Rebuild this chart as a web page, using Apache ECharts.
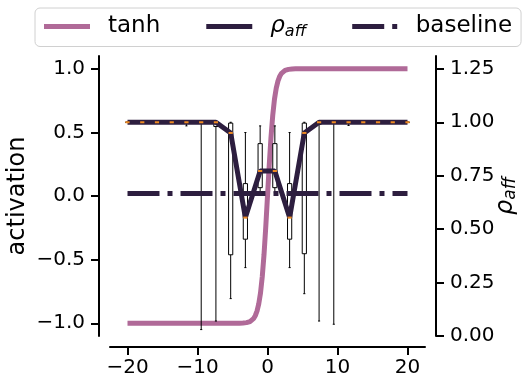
<!DOCTYPE html>
<html>
<head>
<meta charset="utf-8">
<script src="https://cdn.jsdelivr.net/npm/echarts@6/dist/echarts.min.js"></script>
<style>
  html, body { margin: 0; padding: 0; background: #fff; }
  #chart { width: 532px; height: 392px; }
</style>
</head>
<body>
<div id="chart"></div>
<script>
// tanh curve
const tanhX = [-20, -4, -3.5, -3, -2.75, -2.5, -2.25, -2, -1.75, -1.5, -1.25, -1, -0.75, -0.5, -0.25, 0,
  0.25, 0.5, 0.75, 1, 1.25, 1.5, 1.75, 2, 2.25, 2.5, 2.75, 3, 3.5, 4, 20]
const tanhY = [-1, -0.999, -0.998, -0.995, -0.992, -0.987, -0.978, -0.964, -0.941, -0.905, -0.848, -0.762, -0.635, -0.462, -0.245, 0,
  0.245, 0.462, 0.635, 0.762, 0.848, 0.905, 0.941, 0.964, 0.978, 0.987, 0.992, 0.995, 0.998, 0.999, 1]

// positions of the rho_aff samples
const rhoX = [-20, -17.89, -15.79, -13.68, -11.58, -9.47, -7.37, -5.26, -3.16, -1.05,
  1.05, 3.16, 5.26, 7.37, 9.47, 11.58, 13.68, 15.79, 17.89, 20]
const rhoY = [1, 1, 1, 1, 1, 1, 1, 0.95, 0.554, 0.772,
  0.772, 0.554, 0.95, 1, 1, 1, 1, 1, 1, 1]

// box stats per sample: [min, q1, median, q3, max]
const rhoBox = [
  [1, 1, 1, 1, 1],
  [1, 1, 1, 1, 1],
  [1, 1, 1, 1, 1],
  [1, 1, 1, 1, 1],
  [0.983, 1, 1, 1, 1],
  [0.03, 1, 1, 1, 1],
  [0.07, 0.98, 1, 1, 1],
  [0.175, 0.38, 0.95, 0.996, 1],
  [0.32, 0.453, 0.554, 0.713, 0.952],
  [0.67, 0.694, 0.772, 0.9, 0.983],
  [0.67, 0.694, 0.772, 0.9, 0.983],
  [0.32, 0.453, 0.554, 0.713, 0.952],
  [0.198, 0.385, 0.95, 0.996, 1],
  [0.07, 0.99, 1, 1, 1],
  [0.055, 1, 1, 1, 1],
  [0.985, 1, 1, 1, 1],
  [1, 1, 1, 1, 1],
  [1, 1, 1, 1, 1],
  [1, 1, 1, 1, 1],
  [1, 1, 1, 1, 1]
]

const baselineX = [-20, 20]
const baselineY = [0.667, 0.667]

const xTicks = [-20, -10, 0, 10, 20]
const xTickLabels = ['\u221220', '\u221210', '0', '10', '20']
const leftTicks = [-1, -0.5, 0, 0.5, 1]
const leftTickLabels = ['\u22121.0', '\u22120.5', '0.0', '0.5', '1.0']
const rightTicks = [0, 0.25, 0.5, 0.75, 1, 1.25]
const rightTickLabels = ['0.00', '0.25', '0.50', '0.75', '1.00', '1.25']

const FONT = 'DejaVu Sans'
const TANH_COLOR = '#b06a98'
const RHO_COLOR = '#2d1e3f'
const MEDIAN_COLOR = '#ee8a22'
const BOX_W = 0.6

function pick(ticks, labels) {
  return function (v) {
    for (let i = 0; i < ticks.length; i++) {
      if (Math.abs(ticks[i] - v) < 1e-6) return labels[i]
    }
    return ''
  }
}

function axisBase(ticks, labels, margin) {
  return {
    axisLine: { show: true, onZero: false, lineStyle: { color: '#000', width: 2 } },
    axisTick: { show: true, customValues: ticks, length: 8, lineStyle: { color: '#000', width: 2 } },
    axisLabel: { customValues: ticks, formatter: pick(ticks, labels), color: '#000', fontSize: 20, fontFamily: FONT, margin: margin },
    splitLine: { show: false }
  }
}

const rhoRich = function (big, small) {
  return {
    i: { fontSize: big, fontStyle: 'italic', fontFamily: FONT, color: '#000', lineHeight: big + 3 },
    s: { fontSize: small, fontStyle: 'italic', fontFamily: FONT, color: '#000', lineHeight: small, verticalAlign: 'bottom', padding: [7, 0, 0, 0] }
  }
}

const boxData = rhoX.map((x, i) => [x].concat(rhoBox[i]))

const chart = echarts.init(document.getElementById('chart'))

chart.setOption({
  animation: false,
  backgroundColor: '#fff',
  textStyle: { fontFamily: FONT },
  legend: {
    left: 35,
    top: 8,
    padding: [7, 9, 7, 9],
    itemGap: 46,
    itemWidth: 46,
    itemHeight: 5,
    borderColor: '#d0d0d0',
    borderWidth: 1,
    borderRadius: 5,
    data: [
      { name: 'tanh', icon: 'rect' },
      { name: 'ρaff', icon: 'rect' },
      { name: 'baseline', icon: 'path://M0,0H32V5H0ZM40,0H45V5H40Z' }
    ],
    formatter: function (name) {
      return name === 'ρaff' ? '{i|ρ}{s|aff}' : name
    },
    textStyle: {
      fontSize: 23,
      color: '#000',
      fontFamily: FONT,
      padding: [0, 0, 0, 13],
      rich: rhoRich(23, 16)
    }
  },
  grid: { left: 110, right: 107, top: 56, bottom: 56, containLabel: false, outerBoundsMode: 'none' },
  xAxis: Object.assign(axisBase(xTicks, xTickLabels, 11), {
    type: 'value', min: -22.5, max: 22.5, offset: 11
  }),
  yAxis: [
    Object.assign(axisBase(leftTicks, leftTickLabels, 14), {
      type: 'value', position: 'left', min: -1.1, max: 1.1, offset: 11,
      name: 'activation', nameLocation: 'middle', nameGap: 69, nameRotate: 90, nameMoveOverlap: false,
      nameTextStyle: { fontSize: 24, color: '#000', fontFamily: FONT }
    }),
    Object.assign(axisBase(rightTicks, rightTickLabels, 14), {
      type: 'value', position: 'right', min: 0, max: 1.31, offset: 11,
      name: '{i|ρ}{s|aff}', nameLocation: 'middle', nameGap: 56, nameRotate: 90, nameMoveOverlap: false,
      nameTextStyle: { color: '#000', fontFamily: FONT, rich: rhoRich(24, 17) }
    })
  ],
  series: [
    {
      name: 'tanh',
      type: 'line',
      yAxisIndex: 0,
      z: 1,
      symbol: 'none',
      lineStyle: { color: TANH_COLOR, width: 5 },
      itemStyle: { color: TANH_COLOR },
      data: tanhX.map((x, i) => [x, tanhY[i]])
    },
    {
      name: 'boxes',
      type: 'custom',
      yAxisIndex: 1,
      z: 2,
      silent: true,
      data: boxData,
      renderItem: function (params, api) {
        const x = api.value(0)
        const lo = api.coord([x, api.value(1)])
        const q1 = api.coord([x, api.value(2)])
        const q3 = api.coord([x, api.value(4)])
        const hi = api.coord([x, api.value(5)])
        const w = api.size([BOX_W, 0])[0]
        const cx = lo[0]
        const st = { stroke: '#000', lineWidth: 1 }
        return {
          type: 'group',
          children: [
            { type: 'line', shape: { x1: cx, y1: lo[1], x2: cx, y2: q1[1] }, style: st },
            { type: 'line', shape: { x1: cx, y1: q3[1], x2: cx, y2: hi[1] }, style: st },
            { type: 'line', shape: { x1: cx - w / 4, y1: lo[1], x2: cx + w / 4, y2: lo[1] }, style: st },
            { type: 'line', shape: { x1: cx - w / 4, y1: hi[1], x2: cx + w / 4, y2: hi[1] }, style: st },
            {
              type: 'rect',
              shape: { x: cx - w / 2, y: q3[1], width: w, height: q1[1] - q3[1] },
              style: { fill: '#fff', stroke: '#000', lineWidth: 1 }
            }
          ]
        }
      }
    },
    {
      name: 'baseline',
      type: 'line',
      yAxisIndex: 1,
      z: 3,
      symbol: 'none',
      lineStyle: { color: RHO_COLOR, width: 5, type: [32, 8, 5, 8], cap: 'butt' },
      itemStyle: { color: RHO_COLOR },
      data: baselineX.map((x, i) => [x, baselineY[i]])
    },
    {
      name: 'ρaff',
      type: 'line',
      yAxisIndex: 1,
      z: 4,
      symbol: 'none',
      lineStyle: { color: RHO_COLOR, width: 5 },
      itemStyle: { color: RHO_COLOR },
      data: rhoX.map((x, i) => [x, rhoY[i]])
    },
    {
      name: 'medians',
      type: 'custom',
      yAxisIndex: 1,
      z: 5,
      silent: true,
      data: boxData,
      renderItem: function (params, api) {
        const x = api.value(0)
        const m = api.coord([x, api.value(3)])
        const w = api.size([BOX_W, 0])[0]
        return {
          type: 'line',
          shape: { x1: m[0] - w / 2, y1: m[1], x2: m[0] + w / 2, y2: m[1] },
          style: { stroke: MEDIAN_COLOR, lineWidth: 2 }
        }
      }
    }
  ]
})
</script>
</body>
</html>
